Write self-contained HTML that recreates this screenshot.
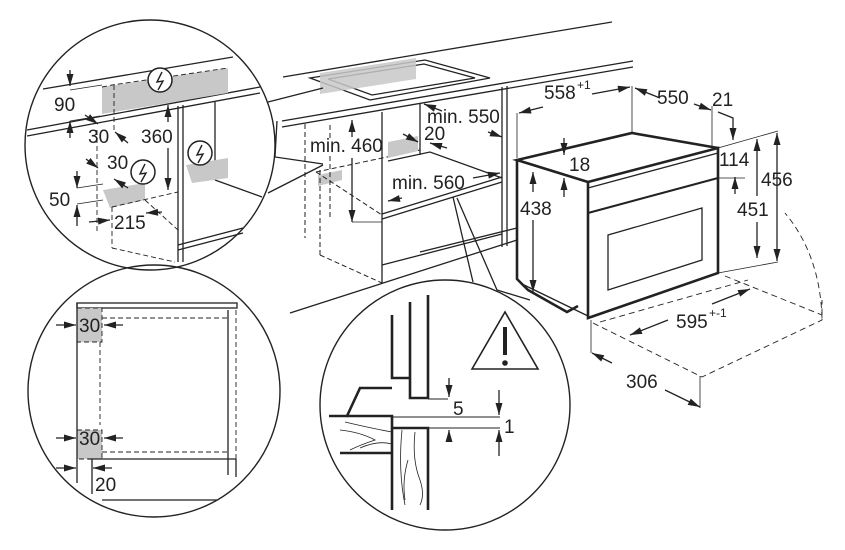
<!DOCTYPE html>
<html><head><meta charset="utf-8"><style>
html,body{margin:0;padding:0;background:#fff;}
svg{display:block;}
text{font-family:"Liberation Sans",sans-serif;font-size:19px;fill:#222;}
</style></head><body>
<svg width="845" height="550" viewBox="0 0 845 550" xmlns="http://www.w3.org/2000/svg">
<defs>
<marker id="a" viewBox="0 0 12 8" refX="12" refY="4" markerWidth="13" markerHeight="8" orient="auto-start-reverse" markerUnits="userSpaceOnUse"><path d="M0,0.5 L12,4 L0,7.5 z" fill="#222"/></marker>
</defs>
<g fill="none" stroke="#222" stroke-width="1.3">
<line x1="283" y1="77" x2="612" y2="22"/>
<line x1="282" y1="121" x2="633" y2="61"/>
<line x1="282" y1="127" x2="633" y2="67"/>
<polygon points="310,78 425,60 490,78 370,100"/>
<polygon points="328,79 424,64 475,78 372,95"/>
<polygon points="320,73 416,58 416,79 320,94" fill="#c8c8c8" stroke="none" opacity="0.85"/>
<polyline points="268,102 323,88"/>
<polyline points="277,121 275,157 323,164"/>
<polyline points="268,193 323,165"/>
<polygon points="318,175 342,170 342,180 318,186" fill="#c8c8c8" stroke="none"/>
<g stroke-dasharray="5,3" stroke-width="1">
<line x1="305" y1="124" x2="305" y2="238"/>
<line x1="320" y1="170" x2="320" y2="255"/>
<line x1="316" y1="172" x2="382" y2="215"/>
<line x1="320" y1="255" x2="382" y2="283"/>
<line x1="316" y1="172" x2="420" y2="150"/>
<line x1="330" y1="125" x2="330" y2="138"/>
<line x1="330" y1="156" x2="330" y2="220"/>
</g>
<line x1="382" y1="112" x2="382" y2="283"/>
<line x1="420" y1="104" x2="420" y2="155"/>
<line x1="502" y1="87" x2="502" y2="247"/>
<line x1="507" y1="86" x2="507" y2="246"/>
<polygon points="388,142 418,136 418,151 388,158" fill="#c8c8c8" stroke="none"/>
<polyline points="388,161 430,152 502,178"/>
<line x1="382" y1="214" x2="502" y2="177"/>
<line x1="382" y1="219" x2="502" y2="182"/>
<line x1="382" y1="265" x2="502" y2="234"/>
<line x1="290" y1="313" x2="517" y2="240"/>
<line x1="420" y1="252" x2="517" y2="228"/>
<polyline points="453,197 473,282"/>
<polyline points="457,198 497,290 530,300"/>
<line x1="352" y1="137" x2="352" y2="120" marker-end="url(#a)"/>
<line x1="352" y1="158" x2="352" y2="222" marker-end="url(#a)"/>
<line x1="352" y1="222" x2="382" y2="222" stroke-width="0.8"/>
<line x1="442" y1="111" x2="424" y2="104" marker-end="url(#a)"/>
<line x1="488" y1="132" x2="502" y2="137" marker-end="url(#a)"/>
<line x1="403" y1="134" x2="418" y2="142" marker-end="url(#a)"/>
<line x1="447" y1="148" x2="430" y2="143" marker-end="url(#a)"/>
<line x1="402" y1="198" x2="388" y2="201" marker-end="url(#a)"/>
<line x1="473" y1="178" x2="500" y2="173" marker-end="url(#a)"/>

<g stroke-width="2.6">
<polyline points="517,160 517,279 528,290 567,312 578,306"/>
<polyline points="588,182 517,160 632,133 718,148"/>
<polygon points="588,182 718,148 718,273 588,318"/>
</g>
<line x1="588" y1="213" x2="718" y2="178" stroke-width="2"/>
<line x1="588" y1="188" x2="718" y2="153"/>
<polygon points="608,235 702,208 702,260 608,290" stroke-width="1.3"/>
<line x1="522" y1="284" x2="588" y2="316"/>
<line x1="517" y1="113" x2="517" y2="158" stroke-width="0.8"/>
<line x1="632" y1="86" x2="632" y2="133" stroke-width="0.8"/>
<line x1="712" y1="106" x2="712" y2="148" stroke-width="0.8"/>
<line x1="543" y1="107" x2="519" y2="113" marker-end="url(#a)"/>
<line x1="592" y1="94" x2="630" y2="87" marker-end="url(#a)"/>
<line x1="660" y1="98" x2="635" y2="88" marker-end="url(#a)"/>
<line x1="694" y1="104" x2="711" y2="110" marker-end="url(#a)"/>
<polyline points="718,112 733,118 733,140" marker-end="url(#a)"/>
<line x1="718" y1="148" x2="778" y2="131" stroke-width="0.8"/>
<line x1="718" y1="273" x2="778" y2="262" stroke-width="0.8"/>
<line x1="718" y1="178" x2="745" y2="178" stroke-width="0.8"/>
<line x1="777" y1="133" x2="777" y2="261" marker-start="url(#a)" marker-end="url(#a)"/>
<line x1="757" y1="139" x2="757" y2="196" marker-start="url(#a)"/>
<line x1="757" y1="222" x2="757" y2="258" marker-end="url(#a)"/>
<line x1="735" y1="194" x2="735" y2="177" marker-end="url(#a)"/>
<line x1="564" y1="138" x2="564" y2="155" marker-end="url(#a)"/>
<line x1="564" y1="197" x2="564" y2="178" marker-end="url(#a)"/>
<line x1="533" y1="172" x2="533" y2="192" marker-start="url(#a)"/>
<line x1="533" y1="220" x2="533" y2="292" marker-end="url(#a)"/>
<line x1="591" y1="320" x2="591" y2="353" stroke-width="0.8"/>
<line x1="700" y1="376" x2="700" y2="408" stroke-width="0.8"/>
<line x1="612" y1="363" x2="592" y2="353" marker-end="url(#a)"/>
<line x1="665" y1="390" x2="700" y2="407" marker-end="url(#a)"/>
<line x1="668" y1="320" x2="630" y2="335" marker-end="url(#a)"/>
<line x1="712" y1="304" x2="750" y2="289" marker-end="url(#a)"/>
<g stroke-dasharray="6,4" stroke-width="0.9">
<polyline points="593,323 702,377 822,320 822,300"/>
<path d="M822,318 Q820,255 785,213"/>
<line x1="600" y1="322" x2="748" y2="280"/>
<line x1="725" y1="276" x2="822" y2="315"/>
</g>

<circle cx="150" cy="145" r="125" fill="none" stroke-width="1.4"/>
<line x1="43" y1="89" x2="233" y2="57"/>
<line x1="27" y1="130" x2="260" y2="87"/>
<line x1="27" y1="136" x2="260" y2="93"/>
<polygon points="102,87 228,68 228,93 102,114" fill="#c8c8c8" stroke="none"/>
<polyline points="102,87 112,85 228,68" stroke-dasharray="5,3" stroke-width="0.9"/>
<line x1="114" y1="85" x2="114" y2="130" stroke-dasharray="5,3" stroke-width="0.9"/>
<circle cx="160" cy="80" r="12" fill="#fff" stroke-width="1.5"/>
<path d="M162,72 L157,82 L163,81 L158,90" stroke-width="1.4"/>
<line x1="178" y1="106" x2="178" y2="262"/>
<line x1="183" y1="105" x2="183" y2="262"/>
<line x1="215" y1="102" x2="215" y2="180"/>
<line x1="215" y1="180" x2="262" y2="197"/>
<line x1="178" y1="245" x2="243" y2="228"/>
<line x1="178" y1="250" x2="243" y2="233"/>
<polygon points="186,165 228,158 228,178 192,183" fill="#c8c8c8" stroke="none"/>
<circle cx="200" cy="153" r="12" fill="#fff" stroke-width="1.5"/>
<path d="M202,145 L197,155 L203,154 L198,163" stroke-width="1.4"/>
<polygon points="103,190 145,183 145,200 110,208" fill="#c8c8c8" stroke="none"/>
<circle cx="143" cy="172" r="12" fill="#fff" stroke-width="1.5"/>
<path d="M145,164 L140,174 L146,173 L141,182" stroke-width="1.4"/>
<g stroke-dasharray="5,3" stroke-width="0.9">
<line x1="97" y1="130" x2="97" y2="232"/>
<line x1="112" y1="207" x2="112" y2="248"/>
<line x1="112" y1="207" x2="178" y2="192"/>
<line x1="112" y1="248" x2="175" y2="262"/>
<line x1="145" y1="200" x2="178" y2="230"/>
</g>
<line x1="70" y1="70" x2="70" y2="86" marker-end="url(#a)"/>
<line x1="70" y1="138" x2="70" y2="121" marker-end="url(#a)"/>
<line x1="70" y1="90" x2="102" y2="85" stroke-width="0.8"/>
<line x1="70" y1="121" x2="100" y2="116" stroke-width="0.8"/>
<line x1="85" y1="115" x2="98" y2="124" marker-end="url(#a)"/>
<line x1="128" y1="143" x2="115" y2="132" marker-end="url(#a)"/>
<line x1="168" y1="105" x2="168" y2="122" marker-start="url(#a)"/>
<line x1="168" y1="148" x2="168" y2="190" marker-end="url(#a)"/>
<line x1="86" y1="159" x2="98" y2="168" marker-end="url(#a)"/>
<line x1="128" y1="188" x2="114" y2="179" marker-end="url(#a)"/>
<line x1="77" y1="171" x2="77" y2="188" marker-end="url(#a)"/>
<line x1="77" y1="226" x2="77" y2="205" marker-end="url(#a)"/>
<line x1="77" y1="188" x2="103" y2="184" stroke-width="0.8"/>
<line x1="77" y1="204" x2="103" y2="200" stroke-width="0.8"/>
<line x1="89" y1="222" x2="110" y2="220" marker-end="url(#a)"/>
<line x1="162" y1="212" x2="146" y2="213" marker-end="url(#a)"/>

<circle cx="154" cy="391" r="126" fill="none" stroke-width="1.4"/>
<rect x="77" y="303" width="160" height="5"/>
<rect x="77" y="308" width="25" height="34" fill="#c8c8c8" stroke="none"/>
<rect x="77" y="430" width="25" height="29" fill="#c8c8c8" stroke="none"/>
<line x1="77" y1="303" x2="77" y2="483"/>
<line x1="228" y1="310" x2="228" y2="475"/>
<line x1="88" y1="459" x2="236" y2="459"/>
<line x1="92" y1="459" x2="92" y2="494"/>
<line x1="236" y1="459" x2="236" y2="477"/>
<line x1="102" y1="500" x2="217" y2="500"/>
<g stroke-dasharray="5,3" stroke-width="0.9">
<polyline points="102,318 228,318"/>
<polyline points="100,342 100,425"/>
<polyline points="102,452 228,452"/>
<polyline points="236,310 236,460"/>
<rect x="77" y="308" width="25" height="34"/>
<rect x="77" y="430" width="25" height="29"/>
</g>
<line x1="56" y1="325" x2="76" y2="325" marker-end="url(#a)"/>
<line x1="123" y1="325" x2="104" y2="325" marker-end="url(#a)"/>
<line x1="56" y1="438" x2="76" y2="438" marker-end="url(#a)"/>
<line x1="123" y1="438" x2="104" y2="438" marker-end="url(#a)"/>
<line x1="56" y1="468" x2="76" y2="468" marker-end="url(#a)"/>
<line x1="112" y1="468" x2="93" y2="468" marker-end="url(#a)"/>

<circle cx="445" cy="405" r="125" fill="#fff" stroke-width="1.4"/>
<g stroke-width="2.6">
<polyline points="392,315 392,378 410,378"/>
<polyline points="410,302 410,398 428,398 428,295"/>
<polyline points="392,388 360,388 347,416 329,416"/>
<polyline points="347,416 392,416 392,510"/>
<line x1="340" y1="453" x2="392" y2="453"/>
<polyline points="392,428 428,428 428,510"/>
</g>
<line x1="392" y1="417" x2="500" y2="417" stroke-width="0.9"/>
<line x1="428" y1="428" x2="500" y2="428" stroke-width="0.9"/>
<line x1="428" y1="399" x2="448" y2="399" stroke-width="0.9"/>
<line x1="449" y1="378" x2="449" y2="397" marker-end="url(#a)"/>
<line x1="449" y1="442" x2="449" y2="430" marker-end="url(#a)"/>
<line x1="499" y1="390" x2="499" y2="415" marker-end="url(#a)"/>
<line x1="499" y1="456" x2="499" y2="430" marker-end="url(#a)"/>
<g stroke-width="0.8">
<path d="M345,422 Q370,428 392,432"/><path d="M340,430 Q360,432 375,440 Q360,445 350,450"/>
<path d="M360,448 Q378,440 392,444"/>
<path d="M402,430 Q398,470 405,505"/><path d="M415,432 Q412,460 420,480 Q425,495 420,505"/>
<path d="M408,460 Q402,480 405,500"/>
</g>
<polygon points="472,369 505,312 538,369" stroke-width="1.6"/>
<line x1="505" y1="327" x2="505" y2="355" stroke-width="4"/>
<circle cx="505" cy="363" r="2.8" fill="#222" stroke="none"/>
</g>

<text x="310" y="152">min. 460</text>
<text x="427" y="123">min. 550</text>
<text x="424" y="140">20</text>
<text x="392" y="189">min. 560</text>
<text x="544" y="99">558</text><text x="577" y="89" style="font-size:12px">+1</text>
<text x="657" y="104">550</text>
<text x="712" y="106">21</text>
<text x="569" y="171">18</text>
<text x="719" y="166">114</text>
<text x="761" y="186">456</text>
<text x="737" y="216">451</text>
<text x="520" y="215">438</text>
<text x="676" y="328">595</text><text x="709" y="317" style="font-size:12px">+-1</text>
<text x="626" y="388">306</text>
<text x="54" y="111">90</text>
<text x="88" y="143">30</text>
<text x="141" y="143">360</text>
<text x="107" y="169">30</text>
<text x="49" y="206">50</text>
<text x="114" y="229">215</text>
<text x="79" y="332">30</text>
<text x="79" y="445">30</text>
<text x="95" y="491">20</text>
<text x="453" y="415">5</text>
<text x="504" y="433">1</text>
</svg>
</body></html>
